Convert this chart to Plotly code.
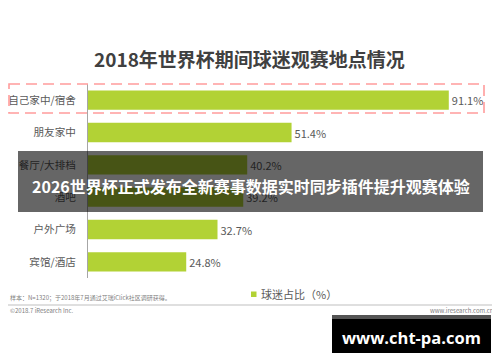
import plotly.graph_objects as go

categories = ["自己家中/宿舍", "朋友家中", "餐厅/大排档", "酒吧", "户外广场", "宾馆/酒店"]
values = [91.1, 51.4, 40.2, 39.2, 32.7, 24.8]
title_text = "2018年世界杯期间球迷观赛地点情况"
series_name = "球迷占比（%）"
banner_text = "2026世界杯正式发布全新赛事数据实时同步插件提升观赛体验"
note_text = "样本：N=1320；于2018年7月通过艾瑞iClick社区调研获得。"
copyright_text = "©2018.7 iResearch Inc."
site_text = "www.iresearch.com.cn"
watermark_text = "www.cht-pa.com"

# page places the figure 8px from the top-left corner (body margin)
OFF = 8
W, H = 500 - OFF, 362 - OFF
L, R, T, B = 88, 488, 84, 278          # plot area in window pixels
FONT = "Noto Sans CJK SC, Noto Sans, sans-serif"
GREEN = "#b2d235"


def px(x):
    return (x - L) / (R - L)


def py(y):
    return (B - y) / (B - T)


fig = go.Figure(go.Bar(
    x=values, y=categories, orientation="h",
    marker=dict(color=GREEN, line=dict(width=0)),
    texttemplate="%{x:.1f}%", textposition="outside",
    textfont=dict(family=FONT, size=11, color="#595959"),
    cliponaxis=False, showlegend=False, name=series_name,
))

fig.update_layout(
    width=W, height=H, autosize=False,
    margin=dict(l=L - OFF, r=500 - R, t=T - OFF, b=362 - B, pad=0, autoexpand=False),
    paper_bgcolor="white", plot_bgcolor="white",
    bargap=0.4,
    xaxis=dict(range=[0, 101], visible=False, fixedrange=True, automargin=False),
    yaxis=dict(categoryorder="array", categoryarray=categories[::-1],
               showline=True, linecolor="#a6a6a6", linewidth=1,
               showgrid=False, zeroline=False, ticks="", automargin=False,
               ticklabelstandoff=9,
               tickfont=dict(family=FONT, size=10.6, color="#595959")),
    font=dict(family=FONT),
)

shapes = [
    # dashed highlight box
    dict(type="rect", xref="paper", yref="paper",
         x0=px(9), x1=px(484), y0=py(84), y1=py(113),
         line=dict(color="#ff9c9c", width=1.6, dash="11px,6px"),
         fillcolor="rgba(0,0,0,0)", layer="above"),
    # overlay banner
    dict(type="rect", xref="paper", yref="paper",
         x0=px(18), x1=px(483), y0=py(151), y1=py(212),
         line=dict(width=0), fillcolor="rgba(0,0,0,0.6)", layer="above"),
    # legend square
    dict(type="rect", xref="paper", yref="paper",
         x0=px(251), x1=px(256.5), y0=py(297), y1=py(291.5),
         line=dict(width=0), fillcolor=GREEN, layer="above"),
    # footer line
    dict(type="line", xref="paper", yref="paper",
         x0=px(8), x1=px(495), y0=py(305), y1=py(305),
         line=dict(color="#bfbfbf", width=1), layer="above"),
    # watermark box
    dict(type="rect", xref="paper", yref="paper",
         x0=px(332), x1=px(491), y0=py(319), y1=py(353),
         line=dict(width=0), fillcolor="black", layer="above"),
    dict(type="rect", xref="paper", yref="paper",
         x0=px(332), x1=px(491), y0=py(315), y1=py(319),
         line=dict(width=0), fillcolor="#555555", layer="above"),
]

annotations = [
    dict(text=f"<b>{title_text}</b>", x=px(249), y=py(58),
         font=dict(family=FONT, size=19, color="#404040")),
    dict(text=f"<b>{banner_text}</b>", x=px(251), y=py(186),
         font=dict(family=FONT, size=16, color="white")),
    dict(text=series_name, x=px(259), y=py(294), xanchor="left",
         font=dict(family=FONT, size=11, color="#595959")),
    dict(text=note_text, x=px(8), y=py(297), xanchor="left",
         font=dict(family=FONT, size=6, color="#808080")),
    dict(text=copyright_text, x=px(8), y=py(310), xanchor="left",
         font=dict(family=FONT, size=6, color="#808080")),
    dict(text=site_text, x=px(496), y=py(310), xanchor="right",
         font=dict(family=FONT, size=6, color="#808080")),
    dict(text=f"<b>{watermark_text}</b>", x=px(411), y=py(337),
         font=dict(family="Open Sans, sans-serif", size=16.5, color="white")),
]
for a in annotations:
    a.update(xref="paper", yref="paper", showarrow=False,
             yanchor="middle", **({} if "xanchor" in a else {"xanchor": "center"}))

fig.update_layout(shapes=shapes, annotations=annotations)
fig.write_html("out.html")
